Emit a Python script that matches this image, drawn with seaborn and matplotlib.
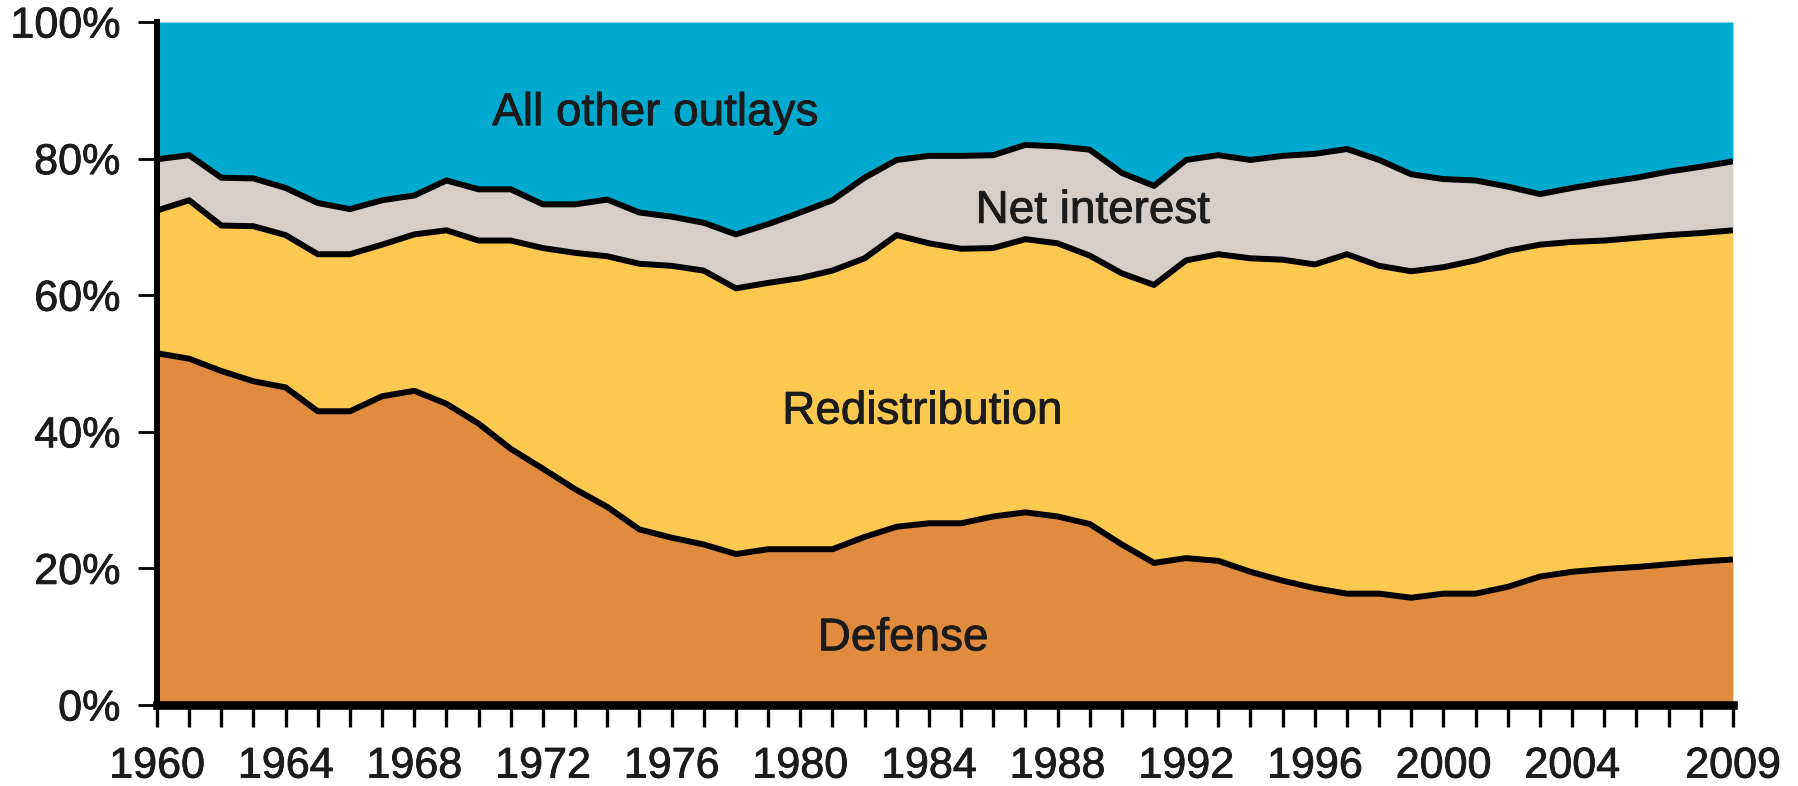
#!/usr/bin/env python
# -*- coding: utf-8 -*-
"""
Composition of federal outlays, 1960-2009 (shares of total, %).

"""
import numpy as np
import pandas as pd
import matplotlib
matplotlib.use('Agg')
import matplotlib.pyplot as plt
import matplotlib.patheffects as pe
import seaborn as sns

years = list(range(1960, 2010))

defense = [51.5, 50.7, 48.9, 47.4, 46.5, 43.0, 43.0, 45.2, 46.0, 44.1,
           41.2, 37.5, 34.6, 31.6, 29.0, 25.7, 24.5, 23.5, 22.1, 22.8,
           22.8, 22.8, 24.6, 26.1, 26.6, 26.6, 27.6, 28.2, 27.6, 26.5,
           23.5, 20.8, 21.5, 21.1, 19.5, 18.2, 17.1, 16.3, 16.3, 15.7,
           16.3, 16.3, 17.3, 18.8, 19.5, 19.9, 20.2, 20.6, 21.0, 21.3]

redistribution = [20.9, 23.2, 21.3, 22.7, 22.3, 23.0, 23.0, 22.2, 22.9, 25.4,
                  26.8, 30.5, 32.3, 34.6, 36.7, 38.9, 39.8, 40.1, 38.9, 39.0,
                  39.7, 40.8, 40.8, 42.7, 41.0, 40.2, 39.3, 40.0, 40.0, 39.3,
                  39.7, 40.7, 43.6, 44.9, 45.9, 47.0, 47.4, 49.7, 48.0, 47.8,
                  47.8, 48.8, 49.2, 48.6, 48.3, 48.1, 48.2, 48.2, 48.1, 48.2]

net_interest = [7.5, 6.6, 7.0, 7.0, 6.9, 7.5, 6.6, 6.5, 5.7, 7.3,
                7.5, 7.5, 6.4, 7.1, 8.3, 7.5, 7.2, 7.0, 7.9, 8.6,
                9.6, 10.3, 11.8, 11.0, 12.8, 13.6, 13.6, 13.8, 14.2, 15.5,
                14.7, 14.5, 14.7, 14.5, 14.4, 15.2, 16.2, 15.4, 15.5, 14.2,
                12.9, 11.7, 9.4, 7.4, 7.9, 8.5, 8.8, 9.3, 9.7, 10.1]

other = [20.1, 19.5, 22.8, 22.9, 24.3, 26.5, 27.4, 26.1, 25.4, 23.2,
         24.5, 24.5, 26.7, 26.7, 26.0, 27.9, 28.5, 29.4, 31.1, 29.6,
         27.9, 26.1, 22.8, 20.2, 19.6, 19.6, 19.5, 18.0, 18.2, 18.7,
         22.1, 24.0, 20.2, 19.5, 20.2, 19.6, 19.3, 18.6, 20.2, 22.3,
         23.0, 23.2, 24.1, 25.2, 24.3, 23.5, 22.8, 21.9, 21.2, 20.4]

categories = ['Defense', 'Redistribution', 'Net interest', 'All other outlays']
colors = ['#E08B3D', '#FCC950', '#D6CEC9', '#00A9CE']
# label anchor (year, % baseline) for the in-chart names
label_x = [1983.2, 1983.8, 1989.1, 1975.5]
label_y = [8.0, 41.2, 70.6, 84.9]

yticks = [0, 20, 40, 60, 80, 100]
ytick_labels = ['0%', '20%', '40%', '60%', '80%', '100%']
xtick_labels = {1960: '1960', 1964: '1964', 1968: '1968', 1972: '1972',
                1976: '1976', 1980: '1980', 1984: '1984', 1988: '1988',
                1992: '1992', 1996: '1996', 2000: '2000', 2004: '2004',
                2009: '2009'}

TEXT = '#1b1b1b'
# the printed type is a touch heavier than Liberation Sans regular
heavy = [pe.withStroke(linewidth=0.6, foreground=TEXT)]

sns.set_theme(style='ticks')
plt.rcParams['font.family'] = ['Liberation Sans', 'DejaVu Sans']

fig = plt.figure(figsize=(17.98, 7.86), dpi=100)
ax = fig.add_axes([0.0873, 0.1031, 0.8765, 0.8689])

series = [defense, redistribution, net_interest, other]
ax.stackplot(years, *series, colors=colors, linewidth=0, zorder=1)

# black boundaries between the layers
tops = np.cumsum(np.array(series[:3]), axis=0)
bounds = pd.DataFrame({
    'year': np.tile(years, 3),
    'value': tops.ravel(),
    'edge': np.repeat(categories[:3], len(years)),
})
sns.lineplot(data=bounds, x='year', y='value', units='edge', estimator=None,
             color='black', linewidth=4.3, ax=ax, zorder=2, legend=False,
             solid_joinstyle='round', solid_capstyle='butt')

for name, x, y in zip(categories, label_x, label_y):
    ax.text(x, y, name, fontsize=33, color=TEXT, ha='center', va='baseline',
            zorder=3, path_effects=heavy)

ax.set_xlim(1960, 2009)
ax.set_ylim(0, 100)
ax.set_xlabel('')
ax.set_ylabel('')

ax.set_yticks(yticks)
ax.set_yticklabels(ytick_labels)
ax.set_xticks(years)
ax.set_xticklabels([xtick_labels.get(y, '') for y in years])

ax.tick_params(axis='y', length=13.5, width=2, pad=13, labelsize=31,
               colors='black', labelcolor=TEXT)
ax.tick_params(axis='x', length=16, width=2.4, pad=14, labelsize=31,
               colors='black', labelcolor=TEXT)
for lab in ax.get_xticklabels() + ax.get_yticklabels():
    lab.set_path_effects(heavy)

# a few of the last ticks are printed grey in the source
for tick, yr in zip(ax.xaxis.get_major_ticks(), years):
    if yr in (2006, 2008):
        tick.tick1line.set_color('#7f7f7f')
    elif yr == 2009:
        tick.tick1line.set_color('#555555')

sns.despine(ax=ax, top=True, right=True)
ax.spines['left'].set_linewidth(4.3)
ax.spines['bottom'].set_linewidth(6.2)
ax.spines['left'].set_color('black')
ax.spines['bottom'].set_color('black')
ax.spines['left'].set_zorder(4)
ax.spines['bottom'].set_zorder(4)
ax.set_facecolor('white')
ax.grid(False)

fig.savefig('out.png', dpi=100)
